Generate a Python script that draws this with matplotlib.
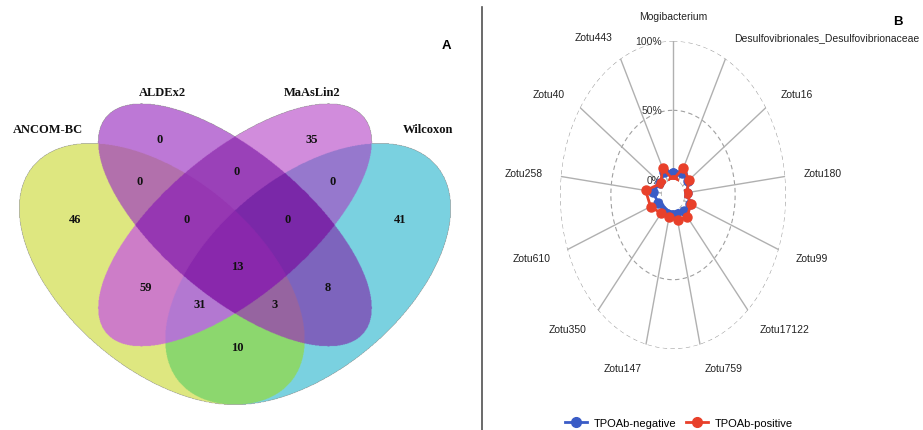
import numpy as np
import matplotlib
matplotlib.use('Agg')
from matplotlib import pyplot as plt
from matplotlib.lines import Line2D

# ---- panel A: venn of four methods ----
set_names = ['ANCOM-BC', 'ALDEx2', 'MaAsLin2', 'Wilcoxon']
# region membership (A=ANCOM-BC, L=ALDEx2, M=MaAsLin2, W=Wilcoxon) and counts
regions = ['A', 'L', 'M', 'W', 'AL', 'LM', 'MW', 'ALM', 'LMW', 'ALMW', 'AM', 'LW', 'AMW', 'ALW', 'AW']
counts = [46, 0, 35, 41, 0, 0, 0, 0, 0, 13, 59, 8, 31, 3, 10]

# ---- panel B: radar ----
taxa = ['Mogibacterium', 'Desulfovibrionales_Desulfovibrionaceae', 'Zotu16', 'Zotu180',
        'Zotu99', 'Zotu17122', 'Zotu759', 'Zotu147', 'Zotu350', 'Zotu610',
        'Zotu258', 'Zotu40', 'Zotu443']
tpo_negative = [0.05, 0.07, 0.07, 0.03, 0.07, 0.045, 0.02, 0.03, 0.01, 0.045, 0.09, 0.04, 0.075]
tpo_positive = [0.00, 0.11, 0.08, 0.025, 0.075, 0.10, 0.075, 0.055, 0.065, 0.125, 0.16, 0.035, 0.11]
grid_vals = [0, 0.5, 1.0]
grid_labels = ['0%', '50%', '100%']

W, H = 923, 431
fig = plt.figure(figsize=(W / 100, H / 100), dpi=100)

# venn panel, pixel coordinates
ax = fig.add_axes([0, 0, 470 / W, 1])
ax.set_xlim(0, 470)
ax.set_ylim(431, 0)
ax.axis('off')

# ellipse shapes: centre x, centre y, semi axes, tilt (deg, y down)
shapes = {'A': (162, 275, 168, 96, 40), 'L': (235, 226, 168, 72, 40),
          'M': (235, 226, 168, 72, -40), 'W': (308, 275, 168, 96, -40)}
colors = {'A': (222, 232, 128), 'L': (190, 120, 214), 'M': (210, 140, 220), 'W': (122, 210, 224),
          'AL': (178, 112, 172), 'LM': (155, 65, 185), 'MW': (150, 120, 205),
          'ALM': (150, 55, 178), 'LMW': (122, 40, 168), 'ALMW': (137, 40, 172),
          'AM': (205, 125, 200), 'LW': (125, 100, 190), 'AMW': (180, 120, 210),
          'ALW': (150, 100, 160), 'AW': (140, 215, 110)}

step = 0.5
xx, yy = np.meshgrid(np.arange(0, 470, step) + step / 2, np.arange(0, 431, step) + step / 2)


def inside(cx, cy, a, b, ang):
    t = np.deg2rad(ang)
    dx, dy = xx - cx, yy - cy
    u = dx * np.cos(t) + dy * np.sin(t)
    v = -dx * np.sin(t) + dy * np.cos(t)
    return (u / a) ** 2 + (v / b) ** 2 <= 1


masks = {k: inside(*s) for k, s in shapes.items()}
img = np.zeros(xx.shape + (4,))
for key in regions:
    m = np.ones(xx.shape, bool)
    for k in 'ALMW':
        m &= masks[k] if k in key else ~masks[k]
    img[m, :3] = np.array(colors[key]) / 255
    img[m, 3] = 1
ax.imshow(img, extent=(0, 470, 431, 0), interpolation='antialiased')

label_pos = {'A': (75, 220), 'L': (160, 140), 'M': (312, 140), 'W': (400, 220),
             'AL': (140, 182), 'LM': (237, 172), 'MW': (333, 182),
             'ALM': (187, 220), 'LMW': (288, 220), 'ALMW': (237, 267),
             'AM': (146, 288), 'LW': (328, 288), 'AMW': (200, 305),
             'ALW': (275, 305), 'AW': (237, 348)}
serif = ['Liberation Serif', 'DejaVu Serif']
for key, n in zip(regions, counts):
    x, y = label_pos[key]
    ax.text(x, y, str(n), ha='center', va='center', fontsize=9, fontweight='bold',
            family=serif, color='#111111')

name_pos = [(48, 130), (162, 93), (312, 93), (428, 130)]
for name, (x, y) in zip(set_names, name_pos):
    ax.text(x, y, name, ha='center', va='center', fontsize=9, fontweight='bold',
            family=serif, color='#111111')
ax.text(446, 46, 'A', ha='center', va='center', fontsize=9.5, fontweight='bold',
        family=['Liberation Sans', 'DejaVu Sans'])

# divider
fig.add_artist(Line2D([482 / W, 482 / W], [0, 1 - 8 / H], color='#505050', lw=1.2))
fig.text(898 / W, 1 - 22 / H, 'B', ha='center', va='center', fontsize=9.5, fontweight='bold',
         family=['Liberation Sans', 'DejaVu Sans'])

# radar panel
sans = ['Liberation Sans', 'DejaVu Sans']
rax = fig.add_axes([560 / W, 1 - 350 / H, 226 / W, 308 / H], projection='polar')
rax.set_aspect('auto')
rax.set_theta_zero_location('N')
rax.set_theta_direction(-1)
rax.set_rorigin(-1 / 9)
rax.set_ylim(0, 1)
rax.axis('off')

n = len(taxa)
theta = np.arange(n) * 2 * np.pi / n
circ = np.linspace(0, 2 * np.pi, 300)
for g in grid_vals:
    rax.plot(circ, np.full_like(circ, g), color='#a0a0a0', lw=0.8, ls=(0, (4, 3)), zorder=1)
for t in theta:
    rax.plot([t, t], [0, 1], color='#b0b0b0', lw=1.0, zorder=1)

for g, lab in zip(grid_vals, grid_labels):
    rax.annotate(lab, xy=(0, g), xytext=(-8, 0), textcoords='offset points',
                 ha='right', va='center', fontsize=7.5, family=sans, color='#333333')

for t, name in zip(theta, taxa):
    s = np.sin(t)
    if abs(s) < 0.05:
        ha = 'center'
    elif s > 0:
        ha = 'left'
    else:
        ha = 'right'
    rax.text(t, 1.178, name, ha=ha, va='center', fontsize=7.5, family=sans,
             color='#222222', clip_on=False)

tc = np.append(theta, theta[0])
blue, red = '#3a5cc6', '#e8402a'
rax.plot(tc, tpo_negative + tpo_negative[:1], color=blue, lw=2, marker='o', ms=6.5, zorder=3)
rax.plot(tc, tpo_positive + tpo_positive[:1], color=red, lw=2, marker='o', ms=6.5, zorder=4)

handles = [Line2D([], [], color=blue, lw=2, marker='o', ms=7),
           Line2D([], [], color=red, lw=2, marker='o', ms=7)]
fig.legend(handles, ['TPOAb-negative', 'TPOAb-positive'], loc='center',
           bbox_to_anchor=(679 / W, 1 - 424 / H), ncol=2, frameon=False,
           handlelength=2.0, columnspacing=0.9, handletextpad=0.6,
           prop={'family': sans, 'size': 8})

fig.savefig('out.png', dpi=100)
